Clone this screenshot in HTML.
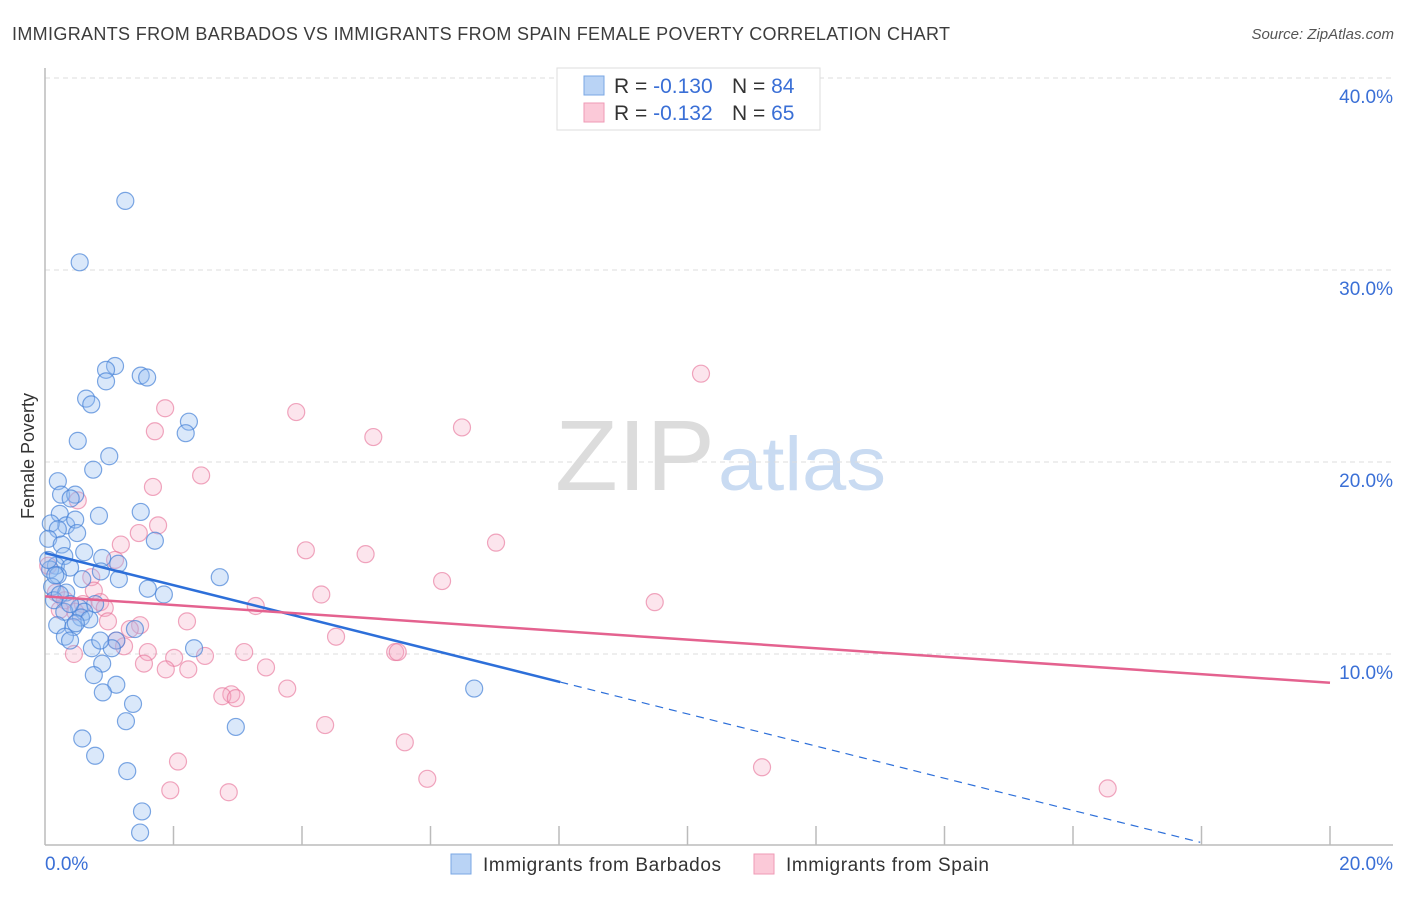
<!DOCTYPE html>
<html><head><meta charset="utf-8"><style>
body{margin:0;background:#fff;font-family:"Liberation Sans",sans-serif;}
svg text{font-family:"Liberation Sans",sans-serif;}
</style></head><body>
<svg id="chart" width="1406" height="892" xmlns="http://www.w3.org/2000/svg">
<text x="12" y="40" font-size="18" fill="#3c3c3c" textLength="938" lengthAdjust="spacing">IMMIGRANTS FROM BARBADOS VS IMMIGRANTS FROM SPAIN FEMALE POVERTY CORRELATION CHART</text>
<text x="1394" y="39" font-size="15" fill="#555" text-anchor="end" font-style="italic">Source: ZipAtlas.com</text>
<text transform="translate(34,456) rotate(-90)" font-size="18" fill="#333" text-anchor="middle">Female Poverty</text>
<g>
<text x="555" y="490" font-size="100" font-family="Liberation Serif,serif" fill="#dcdcdc" textLength="160" lengthAdjust="spacingAndGlyphs">ZIP</text>
<text x="718" y="490" font-size="76" fill="#c9dbf2" textLength="168" lengthAdjust="spacingAndGlyphs">atlas</text>
</g>
<g id="grid"></g><g id="axes"></g><g id="pts"></g><g id="trends"></g>
<g>
<rect x="557" y="68" width="263" height="62" fill="#fff" stroke="#ddd"/>
<rect x="584" y="76" width="20" height="19" fill="#b9d3f5" stroke="#7aa7e4"/>
<rect x="584" y="103" width="20" height="19" fill="#fbc9d8" stroke="#ef9ab6"/>
<text x="614" y="93" font-size="21" fill="#333">R = <tspan fill="#3a6fd6">-0.130</tspan><tspan x="732">N = </tspan><tspan fill="#3a6fd6">84</tspan></text>
<text x="614" y="120" font-size="21" fill="#333">R = <tspan fill="#3a6fd6"> -0.132</tspan><tspan x="732">N = </tspan><tspan fill="#3a6fd6">65</tspan></text>
</g>
<g>
<rect x="451" y="854" width="20" height="20" fill="#b9d3f5" stroke="#7aa7e4"/>
<text x="483" y="871" font-size="19" fill="#333" textLength="238" lengthAdjust="spacing">Immigrants from Barbados</text>
<rect x="754" y="854" width="20" height="20" fill="#fbc9d8" stroke="#ef9ab6"/>
<text x="786" y="871" font-size="19" fill="#333" textLength="203" lengthAdjust="spacing">Immigrants from Spain</text>
</g>
</svg>
<script>
const yTicks=[10,20,30,40];
const yTickLabels=["10.0%","20.0%","30.0%","40.0%"];
const xTicks=[0,2,4,6,8,10,12,14,16,18,20];
const barbadosX=[1.25,0.54,1.09,0.95,0.95,1.49,1.59,0.64,0.72,2.24,2.19,0.51,1.00,0.75,0.20,0.25,0.47,0.40,0.84,1.49,0.23,0.33,0.47,0.09,0.50,0.20,1.71,0.05,0.26,0.61,0.30,0.89,1.14,0.17,0.39,0.08,0.87,0.20,2.72,0.58,1.15,0.11,1.60,0.33,1.85,0.14,0.78,0.53,0.30,0.61,0.56,0.69,0.19,0.44,0.48,1.40,0.31,0.39,1.11,1.04,2.32,0.73,0.89,0.76,1.11,6.68,0.90,1.37,1.26,2.97,0.58,0.78,1.28,1.51,1.48,0.05,0.16,0.23,0.39,0.86];
const barbadosY=[33.6,30.4,25.0,24.8,24.2,24.5,24.4,23.3,23.0,22.1,21.5,21.1,20.3,19.6,19.0,18.3,18.3,18.1,17.2,17.4,17.3,16.7,17.0,16.8,16.3,16.5,15.9,16.0,15.7,15.3,15.1,15.0,14.7,14.6,14.5,14.4,14.3,14.1,14.0,13.9,13.9,13.5,13.4,13.2,13.1,12.8,12.6,12.4,12.2,12.2,11.9,11.8,11.5,11.4,11.6,11.3,10.9,10.7,10.7,10.3,10.3,10.3,9.5,8.9,8.4,8.2,8.0,7.4,6.5,6.2,5.6,4.7,3.9,1.8,0.7,14.9,14.1,13.1,12.6,10.7];
const spainX=[10.21,1.87,3.91,6.49,1.71,5.11,2.43,1.68,0.51,1.76,1.46,1.18,7.02,4.06,4.99,1.09,0.05,0.72,6.18,0.76,0.17,4.30,9.49,0.86,0.31,0.59,3.28,0.93,0.23,2.21,1.48,0.98,1.32,4.53,1.11,1.23,1.60,0.45,3.10,5.45,5.49,2.49,2.01,1.54,3.44,1.88,2.23,3.77,2.90,2.76,2.97,4.36,5.60,2.07,11.16,5.95,16.54,1.95,2.86,0.47];
const spainY=[24.6,22.8,22.6,21.8,21.6,21.3,19.3,18.7,18.0,16.7,16.3,15.7,15.8,15.4,15.2,14.9,14.6,14.0,13.8,13.3,13.2,13.1,12.7,12.7,12.8,12.6,12.5,12.4,12.3,11.7,11.5,11.7,11.3,10.9,10.7,10.4,10.1,10.0,10.1,10.1,10.1,9.9,9.8,9.5,9.3,9.2,9.2,8.2,7.9,7.8,7.7,6.3,5.4,4.4,4.1,3.5,3.0,2.9,2.8,12.2];
const barbadosTrend=[15.26,-0.838]; // intercept, slope
const barbadosSolidEnd=8.02, barbadosDashEnd=17.98;
const spainTrend=[13.0,-0.225];
const NS="http://www.w3.org/2000/svg";
const sx=v=>45+v*64.25, sy=v=>846-v*19.2;
function mk(tag,attrs,parent){const e=document.createElementNS(NS,tag);for(const k in attrs)e.setAttribute(k,attrs[k]);parent.appendChild(e);return e;}
const grid=document.getElementById('grid'),axes=document.getElementById('axes'),pts=document.getElementById('pts'),tr=document.getElementById('trends');
yTicks.forEach((t,i)=>{
 const l=mk('line',{x1:45,x2:1393,y1:sy(t),y2:sy(t),stroke:'#ddd','stroke-dasharray':'5,4'},grid);
 
 
 const tx=mk('text',{x:1393,y:sy(t)+25,'font-size':19,fill:'#3a6fd6','text-anchor':'end'},grid);
 tx.textContent=yTickLabels[i];
 
 
});
const ya=mk('line',{x1:45,x2:45,y1:68,y2:845,stroke:'#bbb','stroke-width':1.5},axes);


const xa=mk('line',{x1:45,x2:1393,y1:845,y2:845,stroke:'#bbb','stroke-width':1.5},axes);


xTicks.forEach(t=>{if(t===0)return;const l=mk('line',{x1:sx(t),x2:sx(t),y1:826,y2:845,stroke:'#bbb','stroke-width':1.5},axes);
 
 });
const x0=mk('text',{x:45,y:870,'font-size':19,fill:'#3a6fd6'},axes);x0.textContent='0.0%';


const x1=mk('text',{x:1393,y:870,'font-size':19,fill:'#3a6fd6','text-anchor':'end'},axes);x1.textContent='20.0%';


spainX.forEach((x,i)=>{const c=mk('circle',{cx:sx(x),cy:sy(spainY[i]),r:8.5,fill:'rgba(246,170,195,0.3)',stroke:'rgba(232,120,156,0.65)','stroke-width':1.2},pts);
 
 });
barbadosX.forEach((x,i)=>{const c=mk('circle',{cx:sx(x),cy:sy(barbadosY[i]),r:8.5,fill:'rgba(150,190,240,0.35)',stroke:'rgba(70,130,215,0.7)','stroke-width':1.2},pts);
 
 });
const bf=x=>barbadosTrend[0]+barbadosTrend[1]*x, pf=x=>spainTrend[0]+spainTrend[1]*x;
const b1=mk('line',{x1:sx(0),y1:sy(bf(0)),x2:sx(barbadosSolidEnd),y2:sy(bf(barbadosSolidEnd)),stroke:'#2d6fd9','stroke-width':2.5},tr);


const b2=mk('line',{x1:sx(barbadosSolidEnd),y1:sy(bf(barbadosSolidEnd)),x2:sx(barbadosDashEnd),y2:sy(bf(barbadosDashEnd)),stroke:'#2d6fd9','stroke-width':1.2,'stroke-dasharray':'8,6'},tr);


const p1=mk('line',{x1:sx(0),y1:sy(pf(0)),x2:sx(20),y2:sy(pf(20)),stroke:'#e4628f','stroke-width':2.5},tr);


</script>
</body></html>
